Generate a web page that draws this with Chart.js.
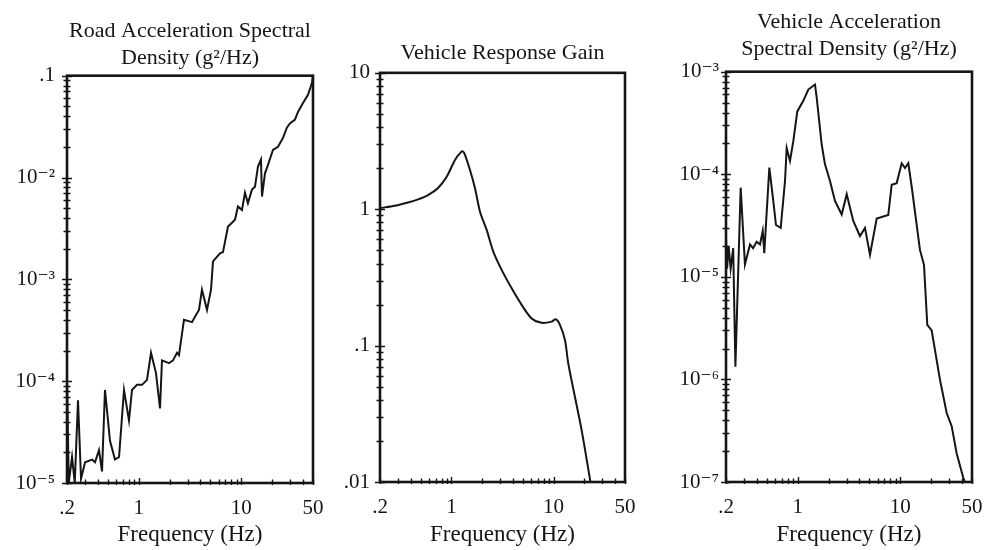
<!DOCTYPE html>
<html>
<head>
<meta charset="utf-8">
<script src="https://cdn.jsdelivr.net/npm/chart.js@4.4.1/dist/chart.umd.min.js"></script>
<style>
  html, body { margin: 0; padding: 0; background: #fff; }
  #wrap { position: relative; width: 985px; height: 550px; overflow: hidden; background: #fff; }
  canvas { position: absolute; top: 0; }
</style>
</head>
<body>
<div id="wrap">
  <canvas id="road" width="330" height="550" style="left:0px;width:330px;height:550px"></canvas>
  <canvas id="gain" width="325" height="550" style="left:330px;width:325px;height:550px"></canvas>
  <canvas id="vehicle" width="330" height="550" style="left:655px;width:330px;height:550px"></canvas>
</div>
<script>
// Frequency axis shared by all three panels
const freqTickValues = [0.2, 1, 10, 50];
const freqTickLabels = ['.2', '1', '10', '50'];

// Road acceleration spectral density (g^2/Hz)
const roadFreq = [0.2, 0.208, 0.224, 0.238, 0.256, 0.274, 0.300, 0.351, 0.375, 0.410,
  0.439, 0.469, 0.525, 0.587, 0.643, 0.719, 0.804, 0.860, 0.962, 1.077,
  1.205, 1.318, 1.474, 1.613, 1.686, 1.973, 2.158, 2.361, 2.469, 2.762,
  3.307, 3.537, 3.868, 4.138, 4.630, 5.065, 5.30, 6.20, 6.63, 7.42,
  8.11, 8.68, 9.28, 10.15, 10.86, 11.61, 12.71, 13.59, 14.54, 15.55,
  15.91, 17.02, 18.20, 20.36, 22.78, 25.49, 27.88, 29.82, 33.36, 35.69,
  39.93, 44.68, 48.87, 50];
const roadPsd = [1.1e-4, 1.0e-5, 1.8e-5, 1.0e-5, 6.5e-5, 1.1e-5, 1.6e-5, 1.7e-5, 1.6e-5, 2.1e-5,
  1.3e-5, 8.2e-5, 2.6e-5, 1.7e-5, 1.8e-5, 8.2e-5, 4.1e-5, 8.2e-5, 9.2e-5, 9.2e-5,
  1.03e-4, 1.9e-4, 1.2e-4, 5.4e-5, 1.6e-4, 1.5e-4, 1.6e-4, 1.9e-4, 1.8e-4, 4.0e-4,
  3.8e-4, 4.3e-4, 5.0e-4, 7.9e-4, 5.0e-4, 7.9e-4, 1.5e-3, 1.8e-3, 1.85e-3, 3.3e-3,
  3.6e-3, 3.85e-3, 5.2e-3, 4.8e-3, 7.1e-3, 5.6e-3, 7.6e-3, 8.1e-3, 1.28e-2, 1.5e-2,
  6.5e-3, 1.1e-2, 1.33e-2, 1.87e-2, 2.0e-2, 2.45e-2, 3.1e-2, 3.4e-2, 3.7e-2, 4.4e-2,
  5.4e-2, 6.5e-2, 8.5e-2, 0.1];
const roadTickValues = [1e-5, 1e-4, 1e-3, 1e-2, 0.1];
const roadTickLabels = ['10\u207B\u2075', '10\u207B\u2074', '10\u207B\u00B3', '10\u207B\u00B2', '.1'];

// Vehicle response gain
const gainFreq = [0.2, 0.28, 0.376, 0.471, 0.59, 0.739, 0.899, 1.084, 1.241, 1.30,
  1.358, 1.52, 1.70, 1.904, 2.213, 2.569, 3.104, 3.888, 4.871, 6.10,
  7.64, 9.57, 10.48, 11.54, 12.92, 13.92, 16.19, 18.82, 22.94];
const gainValues = [1.02, 1.06, 1.12, 1.18, 1.27, 1.43, 1.73, 2.3, 2.62, 2.65,
  2.5, 1.94, 1.43, 0.96, 0.705, 0.489, 0.359, 0.263, 0.199, 0.158,
  0.147, 0.15, 0.156, 0.142, 0.11, 0.074, 0.042, 0.024, 0.01];
const gainTickValues = [0.01, 0.1, 1, 10];
const gainTickLabels = ['.01', '.1', '1', '10'];

// Vehicle acceleration spectral density (g^2/Hz)
const vehFreq = [0.2, 0.205, 0.212, 0.222, 0.235, 0.247, 0.278, 0.306, 0.343, 0.367,
  0.398, 0.429, 0.456, 0.472, 0.529, 0.578, 0.614, 0.683, 0.752, 0.781,
  0.841, 0.906, 0.991, 1.134, 1.269, 1.474, 1.531, 1.713, 1.845, 2.064,
  2.309, 2.684, 3.002, 3.481, 4.045, 4.527, 5.065, 5.888, 7.637, 8.243,
  9.221, 10.32, 11.11, 11.97, 12.91, 15.55, 17.02, 18.33, 20.23, 24.38,
  28.33, 31.69, 35.45, 41.12, 42.71];
const vehPsd = [2.4e-5, 1.2e-5, 2.0e-5, 1.2e-5, 1.9e-5, 1.33e-6, 7.4e-5, 1.32e-5, 2.07e-5, 1.9e-5,
  2.2e-5, 2.07e-5, 2.8e-5, 1.7e-5, 1.16e-4, 5.5e-5, 3.2e-5, 3.0e-5, 8.6e-5, 1.8e-4,
  1.35e-4, 2.1e-4, 4.1e-4, 5.2e-4, 6.7e-4, 7.5e-4, 5.6e-4, 1.95e-4, 1.25e-4, 8.6e-5,
  5.5e-5, 4.05e-5, 6.4e-5, 3.5e-5, 2.5e-5, 3.0e-5, 1.64e-5, 3.7e-5, 4.0e-5, 7.9e-5,
  8.2e-5, 1.28e-4, 1.15e-4, 1.28e-4, 7.6e-5, 1.83e-5, 1.31e-5, 3.4e-6, 3.0e-6, 9.9e-7,
  4.7e-7, 3.5e-7, 1.9e-7, 1.1e-7, 1.0e-7];
const vehTickValues = [1e-7, 1e-6, 1e-5, 1e-4, 1e-3];
const vehTickLabels = ['10\u207B\u2077', '10\u207B\u2076', '10\u207B\u2075', '10\u207B\u2074', '10\u207B\u00B3'];

const INK = '#151515';
Chart.defaults.font.family = "'Liberation Serif', 'Times New Roman', 'DejaVu Serif', serif";
Chart.defaults.color = INK;

// Decade and sub-decade values (1..9 x 10^n) inside a log range
function logMarks(min, max) {
  const out = [];
  const e0 = Math.floor(Math.log10(min)) - 1;
  const e1 = Math.ceil(Math.log10(max)) + 1;
  for (let e = e0; e <= e1; e++) {
    for (let k = 1; k <= 9; k++) {
      const v = k * Math.pow(10, e);
      if (v >= min * 0.999 && v <= max * 1.001) out.push({ v, major: k === 1 });
    }
  }
  return out;
}

// Box frame plus small tick marks crossing the left and bottom axes
const frameAndTicks = {
  id: 'frameAndTicks',
  afterDatasetsDraw(chart) {
    const { ctx, chartArea: a, scales } = chart;
    ctx.save();
    ctx.strokeStyle = INK;
    ctx.lineWidth = 1.4;
    ctx.beginPath();
    logMarks(scales.y.min, scales.y.max).forEach(m => {
      const py = Math.round(scales.y.getPixelForValue(m.v)) + 0.5;
      const len = m.major ? 5 : 3.5;
      ctx.moveTo(a.left - len, py);
      ctx.lineTo(a.left + len, py);
    });
    logMarks(scales.x.min, scales.x.max).forEach(m => {
      const px = Math.round(scales.x.getPixelForValue(m.v)) + 0.5;
      const len = m.major ? 5 : 3.5;
      ctx.moveTo(px, a.bottom - len);
      ctx.lineTo(px, a.bottom + 2);
    });
    ctx.stroke();
    ctx.lineWidth = 2.6;
    ctx.strokeRect(a.left, a.top, a.right - a.left, a.bottom - a.top);
    ctx.restore();
  }
};

// Keep the plot box where the layout padding puts it (no extra room for label overhang)
function noOverhang(s) {
  s.paddingLeft = 0;
  s.paddingRight = 0;
  s.paddingTop = 0;
  s.paddingBottom = 0;
}

function makePanel(id, cfg) {
  return new Chart(document.getElementById(id), {
    type: 'line',
    data: {
      datasets: [{
        data: cfg.freq.map((f, i) => ({ x: f, y: cfg.values[i] })),
        borderColor: INK,
        borderWidth: 2,
        pointRadius: 0,
        tension: cfg.tension,
        fill: false
      }]
    },
    options: {
      responsive: false,
      animation: false,
      devicePixelRatio: 1,
      layout: { padding: { left: 0, right: cfg.padRight, top: 0, bottom: 0 } },
      plugins: {
        legend: { display: false },
        tooltip: { enabled: false },
        title: {
          display: true,
          fullSize: false,
          text: cfg.title,
          color: INK,
          font: { size: 22, weight: 'normal', lineHeight: 1.22 },
          padding: { top: cfg.titleTop, bottom: cfg.titleBottom }
        }
      },
      scales: {
        x: {
          type: 'logarithmic',
          min: 0.2,
          max: 50,
          afterBuildTicks: s => { s.ticks = freqTickValues.map(v => ({ value: v })); },
          afterFit: s => { s.height = 550 - cfg.bottom; noOverhang(s); },
          grid: { display: false, drawTicks: false },
          border: { display: false },
          ticks: {
            autoSkip: false,
            maxRotation: 0,
            padding: 13,
            color: INK,
            font: { size: 21 },
            callback: (v, i) => freqTickLabels[i]
          },
          title: {
            display: true,
            text: 'Frequency (Hz)',
            color: INK,
            font: { size: 23 },
            padding: { top: 0, bottom: 1 }
          }
        },
        y: {
          type: 'logarithmic',
          min: cfg.yTicks[0],
          max: cfg.yTicks[cfg.yTicks.length - 1],
          afterBuildTicks: s => { s.ticks = cfg.yTicks.map(v => ({ value: v })); },
          afterFit: s => { s.width = cfg.axisWidth; noOverhang(s); },
          grid: { display: false, drawTicks: false },
          border: { display: false },
          ticks: {
            autoSkip: false,
            padding: cfg.labelGap,
            color: INK,
            font: { size: 21 },
            callback: (v, i) => cfg.yLabels[i]
          }
        }
      }
    },
    plugins: [frameAndTicks]
  });
}

makePanel('road', {
  freq: roadFreq, values: roadPsd, tension: 0,
  title: ['Road Acceleration Spectral', 'Density (g\u00B2/Hz)'],
  titleTop: 18, titleBottom: 4,
  yTicks: roadTickValues, yLabels: roadTickLabels,
  axisWidth: 67, padRight: 17, bottom: 483, labelGap: 12
});

makePanel('gain', {
  freq: gainFreq, values: gainValues, tension: 0.3,
  title: 'Vehicle Response Gain',
  titleTop: 40, titleBottom: 6,
  yTicks: gainTickValues, yLabels: gainTickLabels,
  axisWidth: 50, padRight: 30, bottom: 482, labelGap: 10
});

makePanel('vehicle', {
  freq: vehFreq, values: vehPsd, tension: 0,
  title: ['Vehicle Acceleration', 'Spectral Density (g\u00B2/Hz)'],
  titleTop: 9, titleBottom: 9,
  yTicks: vehTickValues, yLabels: vehTickLabels,
  axisWidth: 71, padRight: 13, bottom: 482, labelGap: 7
});
</script>
</body>
</html>
